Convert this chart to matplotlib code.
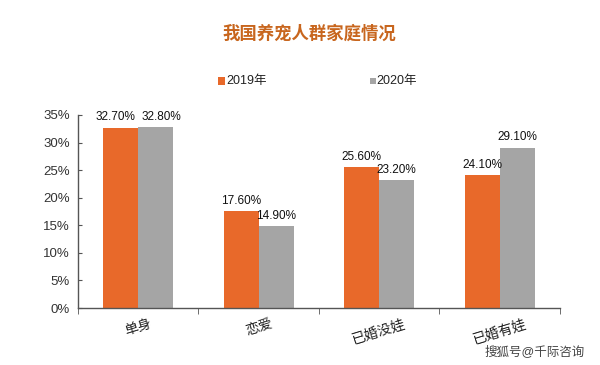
import matplotlib.pyplot as plt
from matplotlib.patches import Rectangle
import numpy as np

plt.rcParams['font.family'] = ['Liberation Sans', 'Noto Sans CJK SC', 'DejaVu Sans']

# 数据
categories = ['单身', '恋爱', '已婚没娃', '已婚有娃']
values_2019 = [32.7, 17.6, 25.6, 24.1]
values_2020 = [32.8, 14.9, 23.2, 29.1]
series_names = ['2019年', '2020年']
yticks = [0, 5, 10, 15, 20, 25, 30, 35]

orange = '#E8692A'
gray = '#A5A5A5'

fig = plt.figure(figsize=(6, 3.65), dpi=100)
ax = fig.add_axes([0.13, 0.156, 0.803, 0.529])

x = np.arange(len(categories))
w = 0.29
ax.bar(x - w / 2, values_2019, w, color=orange, label=series_names[0])
ax.bar(x + w / 2, values_2020, w, color=gray, label=series_names[1])

# 数值标签（第一组两个标签太挤，稍微分开）
for i, (v1, v2) in enumerate(zip(values_2019, values_2020)):
    dx = 4 if i == 0 else 0
    ax.annotate(f'{v1:.2f}%', (x[i] - w / 2, v1), xytext=(-dx, 3), textcoords='offset points',
                ha='center', va='bottom', fontsize=8.5, color='#111111')
    ax.annotate(f'{v2:.2f}%', (x[i] + w / 2, v2), xytext=(dx, 3), textcoords='offset points',
                ha='center', va='bottom', fontsize=8.5, color='#111111')

ax.set_xlim(-0.5, len(categories) - 0.5)
ax.set_ylim(0, 35)
ax.set_yticks(yticks)
ax.set_yticklabels([f'{t}%' for t in yticks], fontsize=9.5, color='#333333')
ax.set_xticks(x)
ax.set_xticklabels(categories, fontsize=10, rotation=17, color='#222222')
ax.tick_params(axis='x', length=0, pad=6)
ax.set_xticks(np.arange(-0.5, len(categories)), minor=True)
ax.tick_params(axis='x', which='minor', length=4, color='#555555')
ax.tick_params(axis='y', length=3, direction='in', color='#555555', pad=6)

for s in ['top', 'right']:
    ax.spines[s].set_visible(False)
for s in ['left', 'bottom']:
    ax.spines[s].set_color('#555555')
    ax.spines[s].set_linewidth(1.0)

# 图例
fig.add_artist(Rectangle((0.363, 0.766), 0.012, 0.022, transform=fig.transFigure,
                         color=orange, lw=0))
fig.text(0.377, 0.777, series_names[0], fontsize=9, va='center', color='#222222')
fig.add_artist(Rectangle((0.617, 0.769), 0.009, 0.016, transform=fig.transFigure,
                         color=gray, lw=0))
fig.text(0.628, 0.777, series_names[1], fontsize=9, va='center', color='#222222')

fig.text(0.515, 0.91, '我国养宠人群家庭情况', ha='center', va='center',
         fontsize=12.5, color='#C8661E', fontweight='bold')

fig.text(0.975, 0.018, '搜狐号@千际咨询', ha='right', va='bottom', fontsize=9, color='#444444')

fig.savefig('out.png', dpi=100, facecolor='white')
